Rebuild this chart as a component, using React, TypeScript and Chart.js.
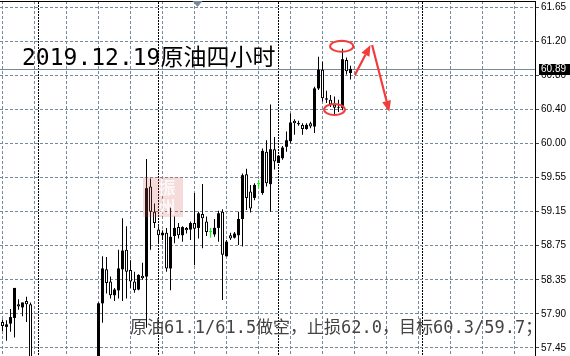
import React, { useEffect, useRef } from "react";
import { Chart, registerables } from "chart.js";

Chart.register(...registerables);

// 4-hour crude oil candles, index 0 = leftmost bar. null = bar below the visible range.
const opens: (number | null)[] = [
  57.77, 57.71, 57.75, 57.82, 57.99, 57.95, 58.03, 57.99,
  null, null, null, null, null, null, null, null,
  null, null, null, null, null, null, null, null,
  57.25, 58.0, 58.42, 58.27, 58.1, 58.16, 58.42, 58.66,
  58.41, 58.27, 58.17, 58.34, 58.33, 59.44, 59.13, 58.91,
  58.84, 58.87, 58.43, 58.83, 58.94, 58.84, 58.93, 58.91,
  58.99, 58.93, 59.1, 59.01, 58.88, 58.85, 58.93, 59.13,
  58.58, 58.84, 58.81, 58.84, 59.04, 59.59, 59.38, 59.3,
  59.47, 59.36, 59.87, 59.47, 59.9, 59.73, 59.79, 59.93,
  60.0, 60.25, 60.21, 60.2, 60.15, 60.22, 60.18, 60.65,
  60.88, 60.53, 60.51, 60.45, 60.42, 60.41, 61.0, 60.84,
];
const highs: (number | null)[] = [
  57.8, 57.79, 57.93, 58.19, 58.05, 58.01, 58.08, 58.01,
  null, null, null, null, null, null, null, null,
  null, null, null, null, null, null, null, null,
  58.01, 58.58, 58.57, 58.33, 58.19, 58.66, 59.05, 58.95,
  58.53, 58.39, 58.36, 58.5, 59.78, 59.54, 59.23, 58.95,
  58.9, 58.93, 59.19, 59.07, 58.99, 58.95, 58.94, 59.01,
  59.36, 59.13, 59.47, 59.07, 58.93, 59.04, 59.14, 59.16,
  58.78, 58.87, 58.88, 59.13, 59.6, 59.66, 59.46, 59.48,
  59.52, 59.91, 60.01, 60.45, 60.05, 59.83, 59.94, 60.12,
  60.34, 60.27, 60.25, 60.22, 60.22, 60.24, 60.67, 61.04,
  60.98, 60.62, 60.57, 60.55, 60.51, 61.14, 61.03, 60.93,
];
const lows: (number | null)[] = [
  57.66, 57.54, 57.65, 57.58, 57.92, 57.84, 57.77, 57.15,
  null, null, null, null, null, null, null, null,
  null, null, null, null, null, null, null, null,
  57.2, 57.76, 58.12, 58.06, 58.03, 58.06, 58.03, 58.06,
  58.19, 58.13, 58.16, 58.29, 57.7, 58.66, 58.93, 58.74,
  58.78, 58.39, 58.16, 58.74, 58.8, 58.76, 58.86, 58.78,
  58.47, 58.8, 58.68, 58.83, 58.81, 58.82, 58.76, 58.04,
  58.58, 58.78, 58.8, 58.72, 58.7, 59.15, 59.12, 59.27,
  59.41, 59.34, 59.44, 59.13, 59.65, 59.73, 59.77, 59.87,
  59.97, 60.08, 60.19, 60.08, 60.14, 60.16, 60.1, 60.63,
  60.49, 60.47, 60.42, 60.32, 60.36, 60.38, 60.82, 60.76,
];
const closes: (number | null)[] = [
  57.72, 57.74, 57.83, 58.19, 57.96, 58.01, 57.99, 57.2,
  null, null, null, null, null, null, null, null,
  null, null, null, null, null, null, null, null,
  58.0, 58.43, 58.25, 58.1, 58.17, 58.43, 58.65, 58.39,
  58.27, 58.16, 58.35, 58.31, 59.42, 59.13, 58.99, 58.84,
  58.87, 58.43, 58.82, 58.93, 58.84, 58.94, 58.9, 58.99,
  58.92, 59.11, 59.05, 58.88, 58.88, 58.93, 59.11, 58.6,
  58.76, 58.8, 58.86, 59.04, 59.58, 59.3, 59.17, 59.46,
  59.47, 59.88, 59.48, 59.9, 59.75, 59.82, 59.92, 60.01,
  60.23, 60.22, 60.22, 60.15, 60.2, 60.18, 60.65, 60.88,
  60.53, 60.51, 60.45, 60.41, 60.41, 61.01, 60.86, 60.89,
];

const yTickValues = [57.45, 57.87, 58.29, 58.71, 59.13, 59.55, 59.97, 60.39, 60.81, 61.23, 61.65];
const yTickLabels = ["57.45", "57.90", "58.35", "58.75", "59.15", "59.55", "60.00", "60.40", "60.80", "61.20", "61.65"];
const gridBars = [0, 8, 16, 24, 32, 40, 48, 56, 64, 72, 80, 88, 96, 104, 112, 120, 128];
const separatorBars = [9, 39, 69, 105];
const bidPrice = 60.89;
const bidLabel = "60.89";
const titleText = "2019.12.19原油四小时";
const noteText = "原油61.1/61.5做空，止损62.0，目标60.3/59.7；";

// annotations in data units (bar index, price)
const ellipseCenters = [
  { x: 84.8, y: 61.17 },
  { x: 83.0, y: 60.39 },
];
const ellipseRadiusBars = [2.9, 2.6];
const ellipseRadiusPrice = [0.068, 0.068];
const arrows = [
  { x1: 88.1, y1: 60.815, x2: 92.0, y2: 61.185 },
  { x1: 92.4, y1: 61.185, x2: 96.7, y2: 60.363 },
];
const shiftMarkerBar = 48.75;

const X_MIN = -0.625;
const X_MAX = 133.125;
const Y_MIN = 57.3505;
const Y_MAX = 61.7277;

const GRID = "#778899";
const RED = "#f23c3c";
const MONO = '"DejaVu Sans Mono", "Noto Sans CJK SC", sans-serif';

type Candle = { i: number; o: number; h: number; l: number; c: number };
const candles: Candle[] = [];
opens.forEach((o, i) => {
  const h = highs[i], l = lows[i], c = closes[i];
  if (o != null && h != null && l != null && c != null) candles.push({ i, o, h, l, c });
});

const kindOf = (raw: any): string => {
  if (!raw || !raw.y) return "up";
  const [o, c] = raw.y;
  if (o === c) return "doji";
  return c > o ? "up" : "down";
};

function drawArrow(ctx: CanvasRenderingContext2D, x1: number, y1: number, x2: number, y2: number) {
  const ang = Math.atan2(y2 - y1, x2 - x1);
  const headLen = 11;
  const headW = 4.5;
  const bx = x2 - headLen * Math.cos(ang);
  const by = y2 - headLen * Math.sin(ang);
  ctx.beginPath();
  ctx.moveTo(x1, y1);
  ctx.lineTo(bx, by);
  ctx.lineWidth = 2.2;
  ctx.strokeStyle = RED;
  ctx.stroke();
  ctx.beginPath();
  ctx.moveTo(x2, y2);
  ctx.lineTo(bx + headW * Math.sin(ang), by - headW * Math.cos(ang));
  ctx.lineTo(bx - headW * Math.sin(ang), by + headW * Math.cos(ang));
  ctx.closePath();
  ctx.fillStyle = RED;
  ctx.fill();
}

const decor = {
  id: "decor",
  beforeDatasetsDraw(chart: any) {
    const { ctx, chartArea: a, scales } = chart;
    const by = Math.round(scales.y.getPixelForValue(bidPrice)) + 0.5;
    ctx.save();
    ctx.strokeStyle = GRID;
    ctx.lineWidth = 1;
    ctx.beginPath();
    ctx.moveTo(a.left, by);
    ctx.lineTo(a.right, by);
    ctx.stroke();
    ctx.restore();
  },
  afterDatasetsDraw(chart: any) {
    const { ctx } = chart;
    // faint watermark stamp
    ctx.save();
    ctx.fillStyle = "rgba(214, 90, 90, 0.22)";
    ctx.fillRect(143, 177, 40, 40);
    ctx.font = 'bold 17px "Noto Sans CJK SC", sans-serif';
    ctx.textAlign = "center";
    ctx.textBaseline = "middle";
    ctx.fillStyle = "rgba(255, 255, 255, 0.8)";
    ctx.fillText("振", 167, 188);
    ctx.fillText("州", 167, 207);
    ctx.restore();
  },
  afterDraw(chart: any) {
    const { ctx, scales, chartArea: a } = chart;
    const X = (v: number) => scales.x.getPixelForValue(v);
    const Y = (v: number) => scales.y.getPixelForValue(v);
    ctx.save();
    // title
    ctx.font = "23px " + MONO;
    ctx.fillStyle = "#000";
    ctx.textBaseline = "alphabetic";
    ctx.textAlign = "left";
    ctx.fillText(titleText, 22, 65);
    // note
    ctx.font = "17px " + MONO;
    ctx.fillStyle = "#444";
    ctx.fillText(noteText, 130, 333);
    // ellipses
    ctx.strokeStyle = RED;
    ctx.lineWidth = 2;
    ellipseCenters.forEach((e, k) => {
      const cx = X(e.x), cy = Y(e.y);
      const rx = Math.abs(X(e.x + ellipseRadiusBars[k]) - cx);
      const ry = Math.abs(Y(e.y + ellipseRadiusPrice[k]) - cy);
      ctx.beginPath();
      ctx.ellipse(cx, cy, rx, ry, 0, 0, Math.PI * 2);
      ctx.stroke();
    });
    arrows.forEach((r) => drawArrow(ctx, X(r.x1), Y(r.y1), X(r.x2), Y(r.y2)));
    // current price box
    const by = Math.round(Y(bidPrice));
    ctx.fillStyle = "#000";
    ctx.fillRect(a.right + 4, by - 5, 40, 11);
    ctx.fillStyle = "#fff";
    ctx.font = '10px "Liberation Sans", Arial, sans-serif';
    ctx.textBaseline = "middle";
    ctx.fillText(bidLabel, a.right + 6, by + 0.5);
    // chart shift marker
    const mx = X(shiftMarkerBar);
    ctx.fillStyle = GRID;
    ctx.beginPath();
    ctx.moveTo(mx - 5, a.top);
    ctx.lineTo(mx + 5, a.top);
    ctx.lineTo(mx, a.top + 6);
    ctx.closePath();
    ctx.fill();
    ctx.restore();
  },
};

export default function App() {
  const ref = useRef<HTMLCanvasElement>(null);
  useEffect(() => {
    document.body.style.margin = "0";
    const bodyData = candles.map((d) => ({ x: d.i, y: [d.o, d.c] }));
    const wickData = candles.map((d) => ({ x: d.i, y: [d.l, d.h], k: d.o === d.c ? "doji" : "n" }));
    const chart = new Chart(ref.current as HTMLCanvasElement, {
      type: "bar",
      data: {
        datasets: [
          {
            label: "body",
            data: bodyData as any,
            order: 0,
            grouped: false,
            barThickness: 3,
            maxBarThickness: 3,
            minBarLength: 1,
            inflateAmount: 0,
            borderSkipped: false,
            backgroundColor: (c: any) => {
              const k = kindOf(c.raw);
              return k === "doji" ? "#00ff00" : k === "up" ? "#000" : "#fff";
            },
            borderColor: (c: any) => (kindOf(c.raw) === "doji" ? "#00ff00" : "#000"),
            borderWidth: (c: any) => (kindOf(c.raw) === "down" ? 1 : 0),
          } as any,
          {
            label: "wick",
            data: wickData as any,
            order: 1,
            grouped: false,
            barThickness: 1,
            maxBarThickness: 1,
            minBarLength: 1,
            inflateAmount: 0,
            borderWidth: 0,
            backgroundColor: (c: any) => (c.raw && c.raw.k === "doji" ? "#00ff00" : "#000"),
          } as any,
        ],
      },
      options: {
        animation: false,
        responsive: true,
        maintainAspectRatio: false,
        layout: { padding: { top: 1, left: 0, right: 0, bottom: 0 } },
        plugins: { legend: { display: false }, tooltip: { enabled: false } },
        events: [],
        scales: {
          x: {
            type: "linear",
            position: "bottom",
            offset: false,
            min: X_MIN,
            max: X_MAX,
            bounds: "data",
            afterBuildTicks: (s: any) => {
              s.ticks = gridBars.map((v) => ({ value: v }));
            },
            ticks: { display: false },
            grid: { offset: false, color: GRID, lineWidth: 1, drawTicks: false },
            border: { display: false, dash: [3, 2] },
            afterFit: (s: any) => {
              s.height = 0;
              s.paddingLeft = 0;
              s.paddingRight = 0;
            },
          },
          x2: {
            type: "linear",
            position: "top",
            offset: false,
            min: X_MIN,
            max: X_MAX,
            bounds: "data",
            afterBuildTicks: (s: any) => {
              s.ticks = separatorBars.map((v) => ({ value: v }));
            },
            ticks: { display: false },
            grid: { offset: false, color: "#000", lineWidth: 1, drawTicks: false },
            border: { display: true, color: "#000", width: 1, dash: [2, 1] },
            afterFit: (s: any) => {
              s.height = 0;
              s.paddingLeft = 0;
              s.paddingRight = 0;
            },
          },
          y: {
            type: "linear",
            position: "right",
            min: Y_MIN,
            max: Y_MAX,
            bounds: "data",
            afterBuildTicks: (s: any) => {
              s.ticks = yTickValues.map((v) => ({ value: v }));
            },
            ticks: {
              autoSkip: false,
              padding: 2,
              color: "#000",
              font: { family: '"Liberation Sans", Arial, sans-serif', size: 10 },
              callback: (_v: any, i: number) => yTickLabels[i],
            },
            grid: { color: GRID, lineWidth: 1, drawTicks: true, tickLength: 4, tickColor: "#444" },
            border: { display: true, color: "#000", width: 1, dash: [3, 2] },
            afterFit: (s: any) => {
              s.width = 35;
              s.paddingTop = 0;
              s.paddingBottom = 0;
            },
          },
        },
      } as any,
      plugins: [decor],
    });
    return () => chart.destroy();
  }, []);
  return (
    <div style={{ position: "absolute", left: 0, top: 0, width: 570, height: 356, background: "#fff" }}>
      <canvas ref={ref} />
    </div>
  );
}
